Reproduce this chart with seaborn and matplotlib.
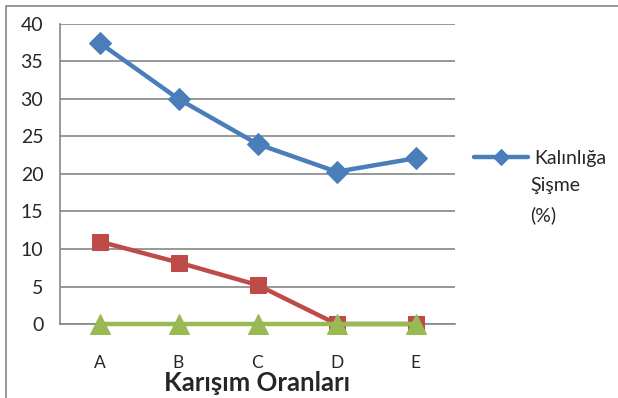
import numpy as np
import pandas as pd
import matplotlib
matplotlib.use('Agg')
import matplotlib.pyplot as plt
import seaborn as sns
from matplotlib.patches import Rectangle

# veriler
kategoriler = ['A', 'B', 'C', 'D', 'E']
kalinliga_sisme = [37.5, 30.0, 24.0, 20.3, 22.1]
seri_2 = [11.0, 8.2, 5.2, 0.0, 0.0]
seri_3 = [0.0, 0.0, 0.0, 0.0, 0.0]

sns.set_style('white')
plt.rcParams['font.family'] = ['Lato', 'DejaVu Sans']

fig = plt.figure(figsize=(6.18, 3.98), dpi=100)
ax = fig.add_axes([60/618, 1-324/398, 395/618, 300/398])

x = np.arange(len(kategoriler))
gri = '#868686'

sns.lineplot(x=x, y=seri_2, ax=ax, color='#be4b48', lw=3.2, marker='s', markersize=12,
             markeredgecolor='#be4b48', zorder=3, clip_on=False)
sns.lineplot(x=x, y=seri_3, ax=ax, color='#98b954', lw=3.2, marker='^', markersize=14,
             markeredgecolor='#98b954', zorder=4, clip_on=False)
sns.lineplot(x=x, y=kalinliga_sisme, ax=ax, color='#4a7ebb', lw=3.2, marker='D', markersize=11,
             markeredgecolor='#4a7ebb', zorder=5, clip_on=False)

ax.set_xlim(-0.5, 4.5)
ax.set_ylim(0, 40)
ax.set_yticks(range(0, 41, 5))
ax.set_xticks(x)
ax.set_xticklabels(kategoriler)
ax.set_xticks(np.arange(-0.5, 5, 1), minor=True)
ax.tick_params(axis='x', which='major', length=0, pad=22, labelsize=12.5)
ax.tick_params(axis='x', which='minor', length=6, color=gri, width=1.2, direction='out')
ax.tick_params(axis='y', length=7, color=gri, width=1.2, labelsize=14, pad=5)
ax.yaxis.grid(True, color=gri, lw=1.2)
ax.set_axisbelow(True)
for s in ['top', 'right']:
    ax.spines[s].set_visible(False)
for s in ['left', 'bottom']:
    ax.spines[s].set_color(gri)
    ax.spines[s].set_linewidth(1.2)
ax.set_xlabel('Karışım Oranları', fontsize=18.5, fontweight='bold', labelpad=0)
ax.set_ylabel('')

h = ax.get_lines()[-1]
fig.legend([h], ['Kalınlığa'], loc='center left',
           bbox_to_anchor=(466/618, 1-158/398), frameon=False, fontsize=14,
           handlelength=2.8, handletextpad=0.3, borderaxespad=0, markerscale=0.75)
fig.text(530/618, 1-177/398, 'Şişme\n(%)', fontsize=14, va='top', ha='left', linespacing=1.8)

fig.patches.append(Rectangle((6/618, -0.1), 1.2, 1.1 - 6/398, transform=fig.transFigure,
                             fill=False, edgecolor=gri, lw=1.2))

fig.savefig('out.png', dpi=100)
